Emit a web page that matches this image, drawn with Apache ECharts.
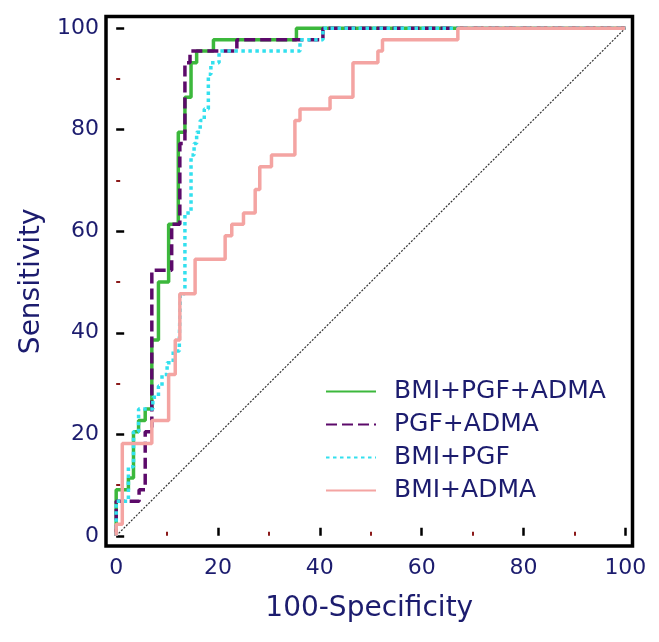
<!DOCTYPE html>
<html>
<head>
<meta charset="utf-8">
<script src="https://cdn.jsdelivr.net/npm/echarts@6/dist/echarts.min.js"></script>
<style>
html,body{margin:0;padding:0;background:#fff;}
#chart{width:659px;height:642px;}
</style>
</head>
<body>
<div id="chart"></div>
<script>
// ---- data (corner points of each ROC staircase: 100-Specificity, Sensitivity) ----
const seriesNames = ['BMI+PGF+ADMA', 'PGF+ADMA', 'BMI+PGF', 'BMI+ADMA'];

const greenX = [0, 0, 2.4, 3.4, 4.4, 5.7, 7.0, 8.3, 10.3, 12.2, 13.5, 14.7, 15.8, 19.1, 35.4, 100];
const greenY = [0, 9.1, 11.4, 20.5, 22.7, 25.0, 38.6, 50.0, 61.4, 79.5, 86.4, 93.2, 95.5, 97.7, 100, 100];

const purpleX = [0, 0, 4.5, 5.7, 7.0, 10.9, 12.5, 13.5, 14.5, 23.7, 40.6, 100];
const purpleY = [0, 6.8, 9.1, 20.5, 52.3, 61.4, 77.3, 93.2, 95.5, 97.7, 100, 100];

const cyanX = [0, 0, 2.4, 3.4, 4.4, 7.2, 8.3, 9.0, 10.0, 11.2, 12.4, 12.6, 13.5, 14.7, 15.3, 15.8, 16.5, 17.3, 18.1, 18.6, 20.2, 36.1, 40.6, 100];
const cyanY = [0, 6.8, 13.6, 20.5, 25.0, 27.3, 29.5, 31.8, 34.1, 36.4, 38.6, 47.7, 63.6, 75.0, 77.3, 79.5, 81.8, 84.1, 90.9, 93.2, 95.5, 97.7, 100, 100];

const pinkX = [0, 0, 1.2, 7.0, 10.3, 11.6, 12.5, 15.5, 21.4, 22.7, 25.0, 27.3, 28.2, 30.5, 35.1, 36.1, 42.0, 46.5, 51.4, 52.3, 67.1, 100];
const pinkY = [0, 2.3, 18.2, 22.7, 31.8, 38.6, 47.7, 54.5, 59.1, 61.4, 63.6, 68.2, 72.7, 75.0, 81.8, 84.1, 86.4, 93.2, 95.5, 97.7, 100, 100];

const diagX = [0, 100];
const diagY = [0, 100];

const majorTicks = [0, 20, 40, 60, 80, 100];
const minorTicks = [10, 30, 50, 70, 90];
const xTitle = '100-Specificity';
const yTitle = 'Sensitivity';

// ---- helpers ----
const pairs = (xs, ys) => xs.map((x, i) => [x, ys[i]]);
const txtColor = '#1c1c6e';
const font = '"DejaVu Sans", Verdana, sans-serif';

function stepSeries(name, xs, ys, color, type) {
  return {
    name: name, type: 'line', step: 'end', data: pairs(xs, ys),
    symbol: 'none', animation: false, silent: true,
    lineStyle: { color: color, width: 3.5, type: type, cap: 'butt' },
    itemStyle: { color: color }
  };
}

const chart = echarts.init(document.getElementById('chart'), null, { renderer: 'canvas' });

const mainAxisCommon = {
  type: 'value',
  axisLine: { show: false },
  splitLine: { show: false },
  axisTick: { show: true, inside: true, length: 8, customValues: majorTicks, lineStyle: { color: '#000', width: 2.5 } },
  axisLabel: { show: true, customValues: majorTicks, color: txtColor, fontSize: 22, fontFamily: font },
  nameTextStyle: { color: txtColor, fontSize: 28, fontFamily: font }
};
const minorAxisCommon = {
  type: 'value',
  axisLine: { show: false },
  splitLine: { show: false },
  axisLabel: { show: false },
  axisTick: { show: true, inside: true, length: 4, customValues: minorTicks, lineStyle: { color: '#8b1a1a', width: 2 } }
};

chart.setOption({
  backgroundColor: '#fff',
  animation: false,
  grid: { left: 106, right: 26.5, top: 16.5, bottom: 96, show: true, borderColor: '#000', borderWidth: 3.5, backgroundColor: 'transparent' },
  xAxis: [
    Object.assign({}, mainAxisCommon, {
      min: -2, max: 101.4, position: 'bottom',
      name: xTitle, nameLocation: 'middle', nameGap: 49,
      axisLabel: Object.assign({}, mainAxisCommon.axisLabel, { margin: 11 })
    }),
    Object.assign({}, minorAxisCommon, { min: -2, max: 101.4, position: 'bottom' })
  ],
  yAxis: [
    Object.assign({}, mainAxisCommon, {
      min: -2, max: 102.3, position: 'left',
      name: yTitle, nameLocation: 'middle', nameGap: 56,
      axisLabel: Object.assign({}, mainAxisCommon.axisLabel, { margin: 7 })
    }),
    Object.assign({}, minorAxisCommon, { min: -2, max: 102.3, position: 'left' })
  ],
  legend: {
    orient: 'vertical', left: 320, top: 374,
    itemWidth: 50, itemHeight: 10, itemGap: 8,
    data: seriesNames,
    selectedMode: false,
    textStyle: { color: txtColor, fontSize: 25, lineHeight: 25, fontFamily: font, padding: [0, 0, 0, 13] },
    itemStyle: { opacity: 0 },
    lineStyle: { width: 2 }
  },
  series: [
    {
      name: 'ref', type: 'line', data: pairs(diagX, diagY), symbol: 'none', silent: true,
      lineStyle: { color: '#333', width: 1.2, type: [2, 1.5] }
    },
    stepSeries(seriesNames[0], greenX, greenY, '#3cb83c', 'solid'),
    stepSeries(seriesNames[1], purpleX, purpleY, '#5c0a6a', [11, 5]),
    stepSeries(seriesNames[2], cyanX, cyanY, '#33e0ee', [3.5, 3.5]),
    stepSeries(seriesNames[3], pinkX, pinkY, '#f4a4a2', 'solid')
  ]
});
</script>
</body>
</html>
